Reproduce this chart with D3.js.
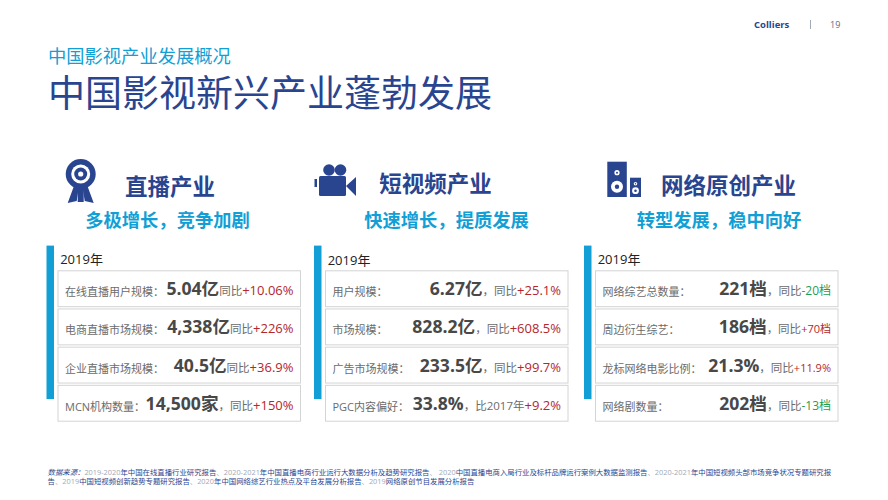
<!DOCTYPE html>
<html>
<head>
<meta charset="utf-8">
<script src="https://cdn.jsdelivr.net/npm/d3@7"></script>
<style>
  body { margin: 0; background: #fff; }
  text { font-family: "Open Sans", "Noto Sans CJK SC", sans-serif; }
</style>
</head>
<body>
<svg id="slide" width="888" height="500"></svg>
<script>
// Slide text
const pageTitle = "中国影视新兴产业蓬勃发展";
const pageKicker = "中国影视产业发展概况";
const yearLabel = "2019年";
const sources = [
    "2019-2020年中国在线直播行业研究报告、2020-2021年中国直播电商行业运行大数据分析及趋势研究报告、 2020中国直播电商入局行业及标杆品牌运行案例大数据监测报告、2020-2021年中国短视频头部市场竞争状况专题研究报",
    "告、2019中国短视频创新趋势专题研究报告、2020年中国网络综艺行业热点及平台发展分析报告、2019网络原创节目发展分析报告"
];

// One entry per panel
const industries = ["直播产业", "短视频产业", "网络原创产业"];
const taglines = ["多极增长，竞争加剧", "快速增长，提质发展", "转型发展，稳中向好"];

// One row per metric, one list per panel
const metricLabels = [
    ["在线直播用户规模：", "电商直播市场规模：", "企业直播市场规模：", "MCN机构数量："],
    ["用户规模：", "市场规模：", "广告市场规模：", "PGC内容偏好："],
    ["网络综艺总数量：", "周边衍生综艺：", "龙标网络电影比例：", "网络剧数量："]
];
const metricValues = [
    ["5.04亿", "4,338亿", "40.5亿", "14,500家"],
    ["6.27亿", "828.2亿", "233.5亿", "33.8%"],
    ["221档", "186档", "21.3%", "202档"]
];
const compareLabels = [
    ["同比", "同比", "同比", "，同比"],
    ["，同比", "，同比", "，同比", "，比2017年"],
    ["，同比", "，同比", "，同比", "，同比"]
];
const changes = [
    ["+10.06%", "+226%", "+36.9%", "+150%"],
    ["+25.1%", "+608.5%", "+99.7%", "+9.2%"],
    ["-20档", "+70档", "+11.9%", "-13档"]
];

const navy = "#2a4590";
const sky = "#129fd6";
const up = "#b3262e";
const down = "#1f9d55";

const svg = d3.select("#slide");

// panel left edges and row bands
const boxX = d3.scaleOrdinal().domain(industries).range([58, 325.5, 595.5]);
const rowY = d3.scaleBand().domain(d3.range(4)).range([270.8, 421.2]).paddingInner(0.06).paddingOuter(0);
const boxW = 242.5;

const headCx = d3.scaleOrdinal().domain(industries).range([170, 435.5, 728.5]);
const headBase = d3.scaleOrdinal().domain(industries).range([195, 192, 194]);
const tagCx = d3.scaleOrdinal().domain(industries).range([167.5, 446.5, 719]);
const yearBase = d3.scaleOrdinal().domain(industries).range([264, 265, 264]);

// small print in the third panel
function changeSize(p, r) {
    if (p < 2) return 13;
    return (r == 1 || r == 2) ? 11 : 12;
}

// header
const masthead = svg.append("g");
masthead.append("text").attr("x", 754).attr("y", 28).attr("font-size", 9.5).attr("font-weight", 700)
    .attr("fill", navy).text("Colliers");
masthead.append("line").attr("x1", 810.5).attr("x2", 810.5).attr("y1", 20).attr("y2", 29)
    .attr("stroke", "#8a94a8").attr("stroke-width", 0.8);
masthead.append("text").attr("x", 830).attr("y", 28).attr("font-size", 9).attr("fill", "#5d6b85").text("19");

svg.append("text").attr("x", 48).attr("y", 63).attr("font-size", 18.3).attr("fill", sky).text(pageKicker);
svg.append("text").attr("x", 48).attr("y", 107).attr("font-size", 37).attr("fill", navy).text(pageTitle);

// panels
const panels = svg.selectAll(".panel")
    .data(industries)
    .enter()
    .append("g")
    .attr("class", "panel");

panels.append("text")
    .attr("x", d => headCx(d)).attr("y", d => headBase(d))
    .attr("text-anchor", "middle").attr("font-size", 22.5).attr("font-weight", 700)
    .attr("fill", navy).text(d => d);

panels.append("text")
    .attr("x", d => tagCx(d)).attr("y", 227)
    .attr("text-anchor", "middle").attr("font-size", 18.3).attr("font-weight", 700)
    .attr("fill", sky).text((d, i) => taglines[i]);

panels.append("rect")
    .attr("x", d => boxX(d) - 11.5).attr("y", 245.6)
    .attr("width", 7.5).attr("height", 153.5)
    .attr("fill", sky);

panels.append("text")
    .attr("x", d => boxX(d) + 2.2).attr("y", d => yearBase(d))
    .attr("font-size", 13).attr("fill", "#222").text(yearLabel);

panels.each(function(d, p) {
    const rows = d3.select(this).selectAll(".row")
        .data(metricLabels[p])
        .enter()
        .append("g")
        .attr("class", "row")
        .attr("transform", (_, r) => "translate(" + boxX(d) + "," + rowY(r) + ")");

    rows.append("rect")
        .attr("width", boxW).attr("height", rowY.bandwidth())
        .attr("fill", "#fff").attr("stroke", "#d4d4d4").attr("stroke-width", 1);

    rows.append("text")
        .attr("x", 7).attr("y", 25.5)
        .attr("font-size", 11).attr("fill", "#6b6b6b").text(l => l);

    // value + comparison + change, hung off the right edge of the box
    const line = rows.append("text")
        .attr("x", boxW - 7).attr("y", 24.5)
        .attr("text-anchor", "end");
    line.append("tspan")
        .attr("font-size", 17.6).attr("font-weight", 700).attr("fill", "#484848")
        .text((_, r) => metricValues[p][r]);
    line.append("tspan")
        .attr("font-size", 11.5).attr("fill", "#6b6b6b")
        .text((_, r) => compareLabels[p][r]);
    line.append("tspan")
        .attr("font-size", (_, r) => changeSize(p, r))
        .attr("fill", (_, r) => changes[p][r][0] == "-" ? down : up)
        .text((_, r) => changes[p][r]);
});

// icons
const rosette = svg.append("g").attr("transform", "translate(80.7,174)").attr("fill", navy);
rosette.append("path").attr("d", "M-6,10 L-13,29 L-4,27 L-2,14 Z M6,10 L13,29 L4,27 L2,14 Z");
rosette.append("rect").attr("x", -3).attr("y", 12).attr("width", 6).attr("height", 16);
rosette.append("circle").attr("r", 15);
rosette.append("circle").attr("r", 9.5).attr("fill", "#fff");
rosette.append("circle").attr("r", 6.5);
rosette.append("circle").attr("r", 2.6).attr("fill", "#fff");

const camera = svg.append("g").attr("transform", "translate(314,162)").attr("fill", navy);
camera.append("circle").attr("cx", 15).attr("cy", 8).attr("r", 5.8);
camera.append("circle").attr("cx", 26.5).attr("cy", 8).attr("r", 5.8);
camera.append("rect").attr("x", 5).attr("y", 14).attr("width", 27).attr("height", 20).attr("rx", 1.5);
camera.append("rect").attr("x", 0.5).attr("y", 17).attr("width", 2.5).attr("height", 8);
camera.append("path").attr("d", "M32,24 L42,15 L42,34 Z");

const speakers = svg.append("g").attr("transform", "translate(607.3,161.7)");
speakers.append("rect").attr("width", 19.5).attr("height", 35.3).attr("fill", navy);
speakers.append("rect").attr("x", 22.7).attr("y", 16).attr("width", 11).attr("height", 19.3).attr("fill", navy);
[[9.7, 11, 2.6, 1], [9.7, 25, 6, 2.2], [28.2, 22, 1.8, 0.7], [28.2, 29, 3.4, 1.3]].forEach(c => {
    speakers.append("circle").attr("cx", c[0]).attr("cy", c[1]).attr("r", c[2]).attr("fill", "#fff");
    speakers.append("circle").attr("cx", c[0]).attr("cy", c[1]).attr("r", c[3]).attr("fill", navy);
});

// footnote: years and punctuation are grey, the rest navy
const foot = svg.append("g").attr("font-size", 7.39);
sources.forEach((s, i) => {
    const t = foot.append("text").attr("x", 47.5).attr("y", 474.5 + i * 9);
    if (i == 0) {
        t.append("tspan").attr("font-style", "italic").attr("fill", navy).text("数据来源：");
    }
    s.split(/([0-9\-、 ]+)/).filter(part => part).forEach(part => {
        t.append("tspan")
            .attr("fill", /[0-9\-、]/.test(part) ? "#a3a9b5" : navy)
            .text(part);
    });
});
</script>
</body>
</html>
